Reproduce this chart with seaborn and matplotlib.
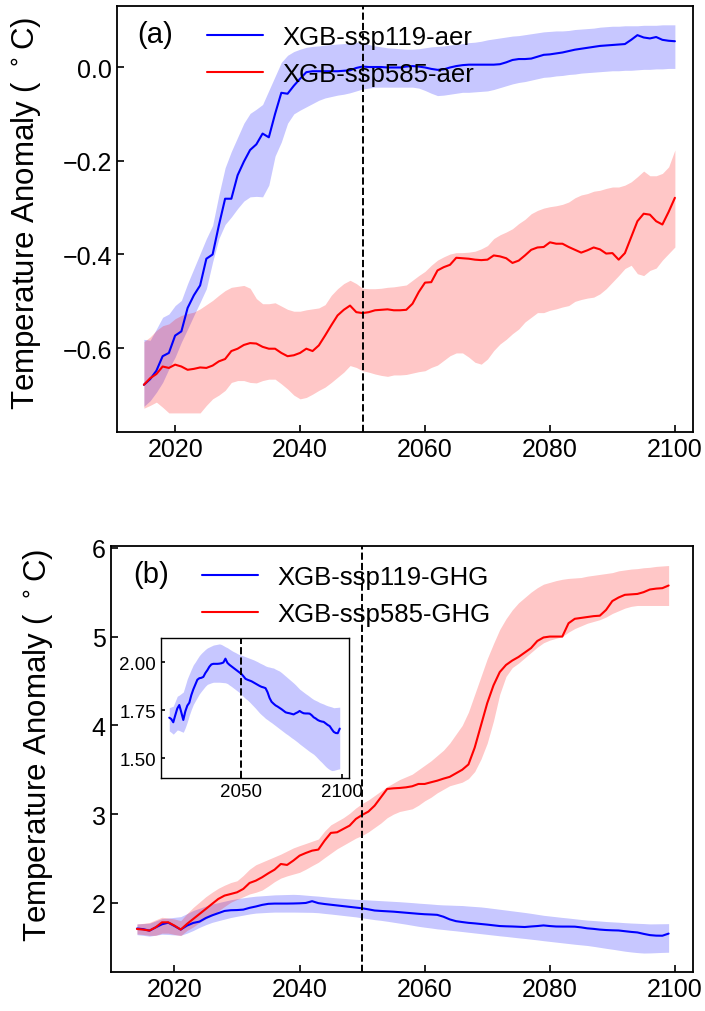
import numpy as np
import pandas as pd
import matplotlib
matplotlib.use("Agg")
import matplotlib.pyplot as plt
import seaborn as sns
from matplotlib.ticker import FuncFormatter

# ---------------- data ----------------
years_a = list(range(2015, 2101))
years_b = list(range(2014, 2100))

aer119_mean = [-0.678, -0.666, -0.648, -0.617, -0.610, -0.573, -0.564, -0.514, -0.487, -0.466,
               -0.409, -0.400, -0.338, -0.281, -0.281, -0.231, -0.202, -0.177, -0.165, -0.142,
               -0.150, -0.100, -0.055, -0.057, -0.040, -0.025, -0.011, -0.009, -0.009, -0.009,
               -0.009, -0.009, -0.008, -0.007, -0.002, 0.001, 0.000, 0.000, 0.000, -0.001,
               -0.001, -0.001, 0.001, 0.002, 0.001, -0.001, -0.004, -0.006, -0.005, -0.001,
               0.002, 0.004, 0.005, 0.005, 0.005, 0.005, 0.005, 0.006, 0.010, 0.015,
               0.017, 0.017, 0.018, 0.022, 0.026, 0.027, 0.029, 0.031, 0.034, 0.037,
               0.039, 0.041, 0.043, 0.045, 0.046, 0.047, 0.048, 0.049, 0.058, 0.068,
               0.063, 0.061, 0.064, 0.058, 0.056, 0.055]
aer119_upper = [-0.581, -0.583, -0.559, -0.534, -0.527, -0.509, -0.498, -0.462, -0.430, -0.398,
                -0.366, -0.338, -0.273, -0.215, -0.180, -0.150, -0.120, -0.099, -0.090, -0.080,
                -0.050, -0.020, 0.010, 0.025, 0.033, 0.038, 0.042, 0.044, 0.045, 0.047,
                0.048, 0.049, 0.050, 0.051, 0.053, 0.052, 0.048, 0.045, 0.043, 0.041,
                0.040, 0.039, 0.038, 0.038, 0.039, 0.041, 0.043, 0.044, 0.045, 0.047,
                0.048, 0.050, 0.052, 0.053, 0.055, 0.058, 0.060, 0.062, 0.064, 0.066,
                0.067, 0.069, 0.071, 0.073, 0.075, 0.076, 0.077, 0.077, 0.078, 0.080,
                0.081, 0.082, 0.083, 0.085, 0.086, 0.087, 0.087, 0.088, 0.088, 0.088,
                0.089, 0.089, 0.089, 0.090, 0.090, 0.090]
aer119_lower = [-0.724, -0.712, -0.694, -0.673, -0.644, -0.619, -0.587, -0.559, -0.530, -0.502,
                -0.473, -0.416, -0.366, -0.336, -0.320, -0.302, -0.286, -0.277, -0.276, -0.277,
                -0.252, -0.190, -0.160, -0.120, -0.100, -0.092, -0.085, -0.078, -0.071, -0.066,
                -0.063, -0.060, -0.058, -0.055, -0.051, -0.047, -0.045, -0.043, -0.043, -0.043,
                -0.043, -0.043, -0.043, -0.043, -0.045, -0.050, -0.056, -0.061, -0.060, -0.058,
                -0.056, -0.054, -0.054, -0.053, -0.052, -0.051, -0.048, -0.044, -0.040, -0.036,
                -0.033, -0.031, -0.028, -0.025, -0.022, -0.021, -0.019, -0.018, -0.016, -0.015,
                -0.013, -0.012, -0.011, -0.010, -0.009, -0.008, -0.008, -0.007, -0.007, -0.006,
                -0.005, -0.005, -0.004, -0.004, -0.003, -0.003]

aer585_mean = [-0.678, -0.664, -0.655, -0.639, -0.642, -0.635, -0.639, -0.646, -0.644, -0.641,
               -0.642, -0.637, -0.628, -0.623, -0.606, -0.601, -0.593, -0.589, -0.590, -0.597,
               -0.601, -0.601, -0.610, -0.617, -0.615, -0.610, -0.601, -0.606, -0.594, -0.573,
               -0.551, -0.530, -0.518, -0.509, -0.523, -0.525, -0.523, -0.519, -0.518, -0.517,
               -0.519, -0.519, -0.518, -0.505, -0.480, -0.460, -0.459, -0.434, -0.427, -0.422,
               -0.407, -0.408, -0.409, -0.411, -0.412, -0.411, -0.402, -0.404, -0.408, -0.418,
               -0.413, -0.402, -0.390, -0.385, -0.384, -0.374, -0.377, -0.377, -0.384, -0.390,
               -0.396, -0.391, -0.385, -0.389, -0.398, -0.397, -0.411, -0.397, -0.363, -0.329,
               -0.313, -0.315, -0.329, -0.336, -0.309, -0.279]
aer585_upper = [-0.586, -0.576, -0.562, -0.552, -0.548, -0.537, -0.530, -0.526, -0.523, -0.516,
                -0.507, -0.498, -0.487, -0.477, -0.470, -0.468, -0.466, -0.472, -0.494, -0.505,
                -0.505, -0.503, -0.510, -0.517, -0.521, -0.521, -0.518, -0.516, -0.514, -0.507,
                -0.487, -0.473, -0.462, -0.455, -0.462, -0.472, -0.473, -0.473, -0.472, -0.470,
                -0.469, -0.467, -0.465, -0.455, -0.445, -0.436, -0.423, -0.412, -0.405, -0.399,
                -0.396, -0.396, -0.395, -0.393, -0.388, -0.381, -0.366, -0.358, -0.352, -0.345,
                -0.334, -0.325, -0.313, -0.306, -0.301, -0.298, -0.296, -0.293, -0.288, -0.279,
                -0.273, -0.270, -0.265, -0.263, -0.259, -0.256, -0.256, -0.252, -0.245, -0.234,
                -0.222, -0.232, -0.232, -0.227, -0.213, -0.177]
aer585_lower = [-0.728, -0.722, -0.715, -0.726, -0.738, -0.738, -0.738, -0.738, -0.738, -0.738,
                -0.722, -0.708, -0.700, -0.690, -0.673, -0.669, -0.669, -0.673, -0.674, -0.669,
                -0.666, -0.666, -0.676, -0.687, -0.700, -0.708, -0.705, -0.698, -0.690, -0.683,
                -0.673, -0.662, -0.651, -0.637, -0.641, -0.648, -0.651, -0.655, -0.658, -0.660,
                -0.657, -0.657, -0.656, -0.653, -0.650, -0.648, -0.641, -0.636, -0.626, -0.616,
                -0.610, -0.610, -0.619, -0.630, -0.634, -0.623, -0.605, -0.591, -0.581, -0.569,
                -0.559, -0.544, -0.534, -0.524, -0.524, -0.519, -0.516, -0.512, -0.509, -0.500,
                -0.496, -0.493, -0.491, -0.484, -0.473, -0.459, -0.445, -0.430, -0.423, -0.441,
                -0.445, -0.434, -0.429, -0.412, -0.398, -0.384]

ghg119_mean = [1.712, 1.705, 1.688, 1.725, 1.760, 1.778, 1.740, 1.700, 1.745, 1.775,
               1.790, 1.830, 1.860, 1.885, 1.910, 1.918, 1.920, 1.925, 1.945, 1.960,
               1.978, 1.990, 1.993, 1.993, 1.993, 1.994, 1.996, 2.000, 2.020, 1.998,
               1.988, 1.980, 1.972, 1.964, 1.956, 1.948, 1.940, 1.928, 1.915, 1.910,
               1.906, 1.902, 1.896, 1.890, 1.884, 1.878, 1.873, 1.870, 1.866, 1.845,
               1.815, 1.795, 1.785, 1.776, 1.770, 1.763, 1.756, 1.748, 1.740, 1.737,
               1.735, 1.732, 1.729, 1.735, 1.740, 1.747, 1.740, 1.735, 1.734, 1.734,
               1.733, 1.725, 1.714, 1.708, 1.700, 1.695, 1.692, 1.690, 1.682, 1.674,
               1.668, 1.652, 1.638, 1.632, 1.631, 1.655]
ghg119_upper = [1.764, 1.768, 1.772, 1.798, 1.824, 1.830, 1.838, 1.846, 1.880, 1.915,
                1.940, 1.965, 1.988, 2.003, 2.020, 2.036, 2.048, 2.058, 2.068, 2.076,
                2.081, 2.086, 2.091, 2.093, 2.095, 2.097, 2.094, 2.088, 2.082, 2.077,
                2.070, 2.063, 2.057, 2.052, 2.046, 2.041, 2.038, 2.034, 2.030, 2.026,
                2.022, 2.018, 2.014, 2.009, 2.004, 1.998, 1.993, 1.988, 1.982, 1.978,
                1.976, 1.973, 1.971, 1.965, 1.960, 1.955, 1.947, 1.938, 1.929, 1.920,
                1.911, 1.902, 1.893, 1.883, 1.872, 1.861, 1.853, 1.845, 1.837, 1.830,
                1.822, 1.814, 1.807, 1.802, 1.797, 1.791, 1.787, 1.783, 1.778, 1.774,
                1.771, 1.768, 1.764, 1.765, 1.766, 1.767]
ghg119_lower = [1.643, 1.635, 1.626, 1.637, 1.648, 1.645, 1.640, 1.636, 1.660, 1.690,
                1.725, 1.755, 1.781, 1.800, 1.818, 1.836, 1.850, 1.863, 1.876, 1.886,
                1.890, 1.894, 1.897, 1.897, 1.897, 1.897, 1.896, 1.895, 1.894, 1.890,
                1.882, 1.875, 1.867, 1.859, 1.851, 1.843, 1.832, 1.822, 1.812, 1.804,
                1.794, 1.783, 1.772, 1.761, 1.749, 1.737, 1.727, 1.718, 1.708, 1.701,
                1.693, 1.686, 1.678, 1.670, 1.662, 1.654, 1.646, 1.638, 1.630, 1.623,
                1.615, 1.607, 1.600, 1.592, 1.584, 1.575, 1.567, 1.559, 1.551, 1.543,
                1.535, 1.528, 1.521, 1.511, 1.500, 1.489, 1.479, 1.468, 1.457, 1.448,
                1.441, 1.436, 1.437, 1.440, 1.443, 1.445]

ghg585_mean = [1.707, 1.700, 1.689, 1.726, 1.782, 1.782, 1.745, 1.700, 1.764, 1.820,
               1.876, 1.932, 1.989, 2.045, 2.083, 2.101, 2.120, 2.158, 2.225, 2.251,
               2.289, 2.334, 2.375, 2.439, 2.428, 2.477, 2.533, 2.563, 2.589, 2.601,
               2.702, 2.789, 2.796, 2.834, 2.871, 2.946, 2.991, 3.029, 3.096, 3.190,
               3.284, 3.291, 3.295, 3.302, 3.314, 3.340, 3.340, 3.359, 3.377, 3.400,
               3.420, 3.460, 3.500, 3.560, 3.750, 4.000, 4.250, 4.450, 4.600, 4.680,
               4.730, 4.770, 4.820, 4.870, 4.950, 4.990, 5.000, 5.000, 5.000, 5.150,
               5.200, 5.210, 5.220, 5.230, 5.235, 5.300, 5.400, 5.440, 5.470, 5.475,
               5.480, 5.500, 5.530, 5.540, 5.545, 5.575]
ghg585_upper = [1.764, 1.770, 1.780, 1.810, 1.839, 1.830, 1.820, 1.800, 1.880, 1.950,
                2.010, 2.070, 2.120, 2.165, 2.200, 2.230, 2.250, 2.310, 2.380, 2.430,
                2.460, 2.490, 2.520, 2.550, 2.585, 2.620, 2.646, 2.670, 2.695, 2.720,
                2.810, 2.880, 2.920, 2.960, 3.010, 3.070, 3.120, 3.160, 3.210, 3.260,
                3.310, 3.350, 3.390, 3.420, 3.450, 3.500, 3.550, 3.600, 3.660, 3.720,
                3.800, 3.900, 4.000, 4.150, 4.350, 4.550, 4.750, 4.920, 5.080, 5.200,
                5.300, 5.380, 5.440, 5.500, 5.550, 5.590, 5.610, 5.630, 5.645, 5.655,
                5.660, 5.665, 5.680, 5.690, 5.700, 5.710, 5.720, 5.740, 5.750, 5.760,
                5.765, 5.775, 5.780, 5.790, 5.795, 5.800]
ghg585_lower = [1.651, 1.645, 1.635, 1.635, 1.660, 1.660, 1.645, 1.632, 1.690, 1.730,
                1.780, 1.820, 1.857, 1.910, 1.960, 2.008, 2.040, 2.070, 2.101, 2.120,
                2.145, 2.190, 2.240, 2.280, 2.305, 2.325, 2.345, 2.380, 2.420, 2.458,
                2.510, 2.560, 2.610, 2.650, 2.690, 2.730, 2.760, 2.800, 2.850, 2.900,
                2.960, 3.000, 3.030, 3.045, 3.060, 3.100, 3.150, 3.190, 3.240, 3.280,
                3.320, 3.340, 3.360, 3.400, 3.480, 3.620, 3.800, 4.050, 4.350, 4.550,
                4.650, 4.700, 4.760, 4.820, 4.880, 4.930, 4.960, 4.980, 5.000, 5.050,
                5.090, 5.120, 5.150, 5.170, 5.190, 5.220, 5.260, 5.290, 5.320, 5.340,
                5.350, 5.350, 5.350, 5.350, 5.350, 5.350]

labels_a = ["XGB-ssp119-aer", "XGB-ssp585-aer"]
labels_b = ["XGB-ssp119-GHG", "XGB-ssp585-GHG"]
xticks = [2020, 2040, 2060, 2080, 2100]
yticks_a = [-0.6, -0.4, -0.2, 0.0]
yticks_b = [2, 3, 4, 5, 6]
yticks_in = [1.50, 1.75, 2.00]
xticks_in = [2050, 2100]
cut_year = 2050
ylabel_text = "Temperature Anomaly ( $^\\circ$C)"

# ---------------- style ----------------
sns.set_theme(style="ticks")
plt.rcParams["font.family"] = ["Liberation Sans", "DejaVu Sans"]
plt.rcParams["axes.edgecolor"] = "black"
plt.rcParams["axes.linewidth"] = 1.3
plt.rcParams["text.color"] = "black"
plt.rcParams["axes.labelcolor"] = "black"
plt.rcParams["xtick.color"] = "black"
plt.rcParams["ytick.color"] = "black"

BLUE = "#0000ff"
RED = "#ff0000"
FS = 18

fig = plt.figure(figsize=(7.05, 10.12), dpi=100)
ax_a = fig.add_axes([0.166, 0.572, 0.817, 0.421])
ax_b = fig.add_axes([0.157, 0.0385, 0.826, 0.421])


def fmt(decimals):
    def f(v, pos):
        s = f"{v:.{decimals}f}"
        return s.replace("-", "\u2212")
    return FuncFormatter(f)


def draw(ax, years, series, labels):
    for (mean, lo, hi), lab, col in zip(series, labels, [BLUE, RED]):
        df = pd.DataFrame({"year": years, "value": mean})
        ax.fill_between(years, lo, hi, color=col, alpha=0.22, linewidth=0)
        sns.lineplot(data=df, x="year", y="value", color=col, linewidth=1.5,
                     ax=ax, label=lab)
    ax.axvline(cut_year, color="black", linestyle="--", linewidth=1.4)


def style(ax, fs=FS, length=5):
    ax.tick_params(axis="both", direction="in", length=length, width=1.2,
                   labelsize=fs, colors="black", top=False, right=False)
    ax.set_xlabel("")
    for s in ax.spines.values():
        s.set_visible(True)
        s.set_color("black")


leg_kw = dict(loc="upper left", frameon=False, fontsize=18.5, handlelength=2.2,
              handletextpad=0.75, labelspacing=0.5, borderaxespad=0, borderpad=0,
              labelcolor="black")

# panel (a)
draw(ax_a, years_a, [(aer119_mean, aer119_lower, aer119_upper),
                     (aer585_mean, aer585_lower, aer585_upper)], labels_a)
ax_a.set_xlim(2010.7, 2102.9)
ax_a.set_ylim(-0.779, 0.130)
ax_a.set_xticks(xticks)
ax_a.set_yticks(yticks_a)
ax_a.yaxis.set_major_formatter(fmt(1))
style(ax_a)
ax_a.set_ylabel(ylabel_text, fontsize=22.5, color="black")
ax_a.yaxis.set_label_coords(-0.128, 0.516)
ax_a.text(0.035, 0.934, "(a)", transform=ax_a.transAxes, fontsize=21,
          va="center", ha="left", color="black")
ax_a.legend(bbox_to_anchor=(0.156, 0.955), **leg_kw)

# panel (b)
draw(ax_b, years_b, [(ghg119_mean, ghg119_lower, ghg119_upper),
                     (ghg585_mean, ghg585_lower, ghg585_upper)], labels_b)
ax_b.set_xlim(2009.8, 2102.9)
ax_b.set_ylim(1.222, 6.02)
ax_b.set_xticks(xticks)
ax_b.set_yticks(yticks_b)
style(ax_b)
ax_b.set_ylabel(ylabel_text, fontsize=22.5, color="black")
ax_b.yaxis.set_label_coords(-0.095, 0.534)
ax_b.text(0.038, 0.934, "(b)", transform=ax_b.transAxes, fontsize=21,
          va="center", ha="left", color="black")
ax_b.legend(bbox_to_anchor=(0.156, 0.955), **leg_kw)

# inset
ax_in = fig.add_axes([0.228, 0.230, 0.267, 0.139])
df_in = pd.DataFrame({"year": years_b, "value": ghg119_mean})
ax_in.fill_between(years_b, ghg119_lower, ghg119_upper, color=BLUE, alpha=0.22,
                   linewidth=0)
sns.lineplot(data=df_in, x="year", y="value", color=BLUE, linewidth=1.5, ax=ax_in)
ax_in.axvline(cut_year, color="black", linestyle="--", linewidth=1.4)
ax_in.set_xlim(2009.75, 2103.6)
ax_in.set_ylim(1.396, 2.13)
ax_in.set_xticks(xticks_in)
ax_in.set_yticks(yticks_in)
ax_in.yaxis.set_major_formatter(fmt(2))
style(ax_in, fs=13.5, length=3)
ax_in.set_ylabel("")
for s in ax_in.spines.values():
    s.set_linewidth(1.0)

fig.savefig("out.png", dpi=100)
